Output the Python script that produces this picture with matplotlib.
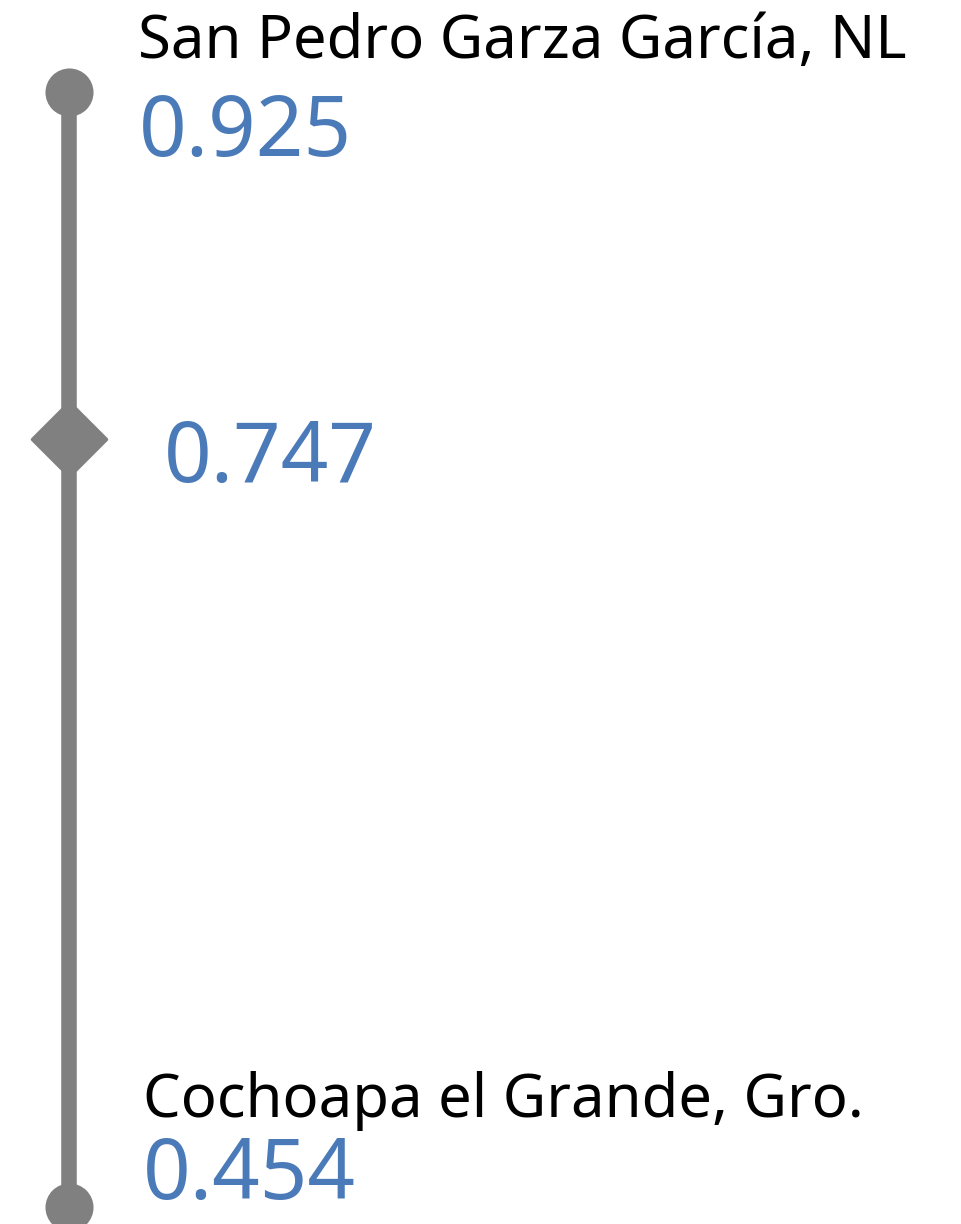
import numpy as np
import matplotlib
matplotlib.use("Agg")
import matplotlib.pyplot as plt
from matplotlib.markers import MarkerStyle

# index values (top = max, bottom = min, diamond = national/state value)
MAX_NAME  = "San Pedro Garza García, NL"
MIN_NAME  = "Cochoapa el Grande, Gro."
MAX_VALUE = 0.925
MIN_VALUE = 0.454
MID_VALUE = 0.747

GRAY = "#808080"
BLUE = "#4a7ab8"
POW  = 0.15

plt.rcParams["font.family"] = ["Noto Sans", "DejaVu Sans"]

fig = plt.figure(figsize=(9.61, 12.24), dpi=100)
ax  = fig.add_axes([0, 0, 1, 1])
ax.set_yscale("function", functions=(lambda v: np.power(np.clip(v, 1e-9, None), POW),
                                     lambda t: np.power(np.clip(t, 1e-9, None), 1 / POW)))

# axis limits so the end markers sit where the reference puts them
t_hi, t_lo = MAX_VALUE ** POW, MIN_VALUE ** POW
span = t_hi - t_lo
ppu  = (1132.3 - 17.3) / span
ax.set_ylim((t_lo - 17.3 / ppu) ** (1 / POW), (t_hi + 91.7 / ppu) ** (1 / POW))
ax.set_xlim(-69, 961 - 69)
ax.axis("off")

ax.plot([0, 0], [MIN_VALUE, MAX_VALUE], color=GRAY, lw=11.2, solid_capstyle="butt", zorder=1)
ax.plot([0, 0], [MIN_VALUE, MAX_VALUE], "o", color=GRAY, ms=34.6, mew=0, zorder=2)
ax.plot([0], [MID_VALUE], linestyle="none", marker=MarkerStyle("D", joinstyle="round"),
        color=GRAY, ms=37.5, mec=GRAY, mew=2.5, zorder=3)

def label(text, y, dx, dy, size, color):
    ax.annotate(text, xy=(0, y), xytext=(dx, dy), textcoords="offset points",
                ha="left", va="baseline", fontsize=size, color=color)

label(MAX_NAME, MAX_VALUE, 50, 24, 43, "black")
label(f"{MAX_VALUE:.3f}", MAX_VALUE, 50, -46.5, 60, BLUE)
label(f"{MID_VALUE:.3f}", MID_VALUE, 68, -31, 60, BLUE)
label(MIN_NAME, MIN_VALUE, 53.5, 64.6, 43, "black")
label(f"{MIN_VALUE:.3f}", MIN_VALUE, 53.5, 5.5, 60, BLUE)

fig.savefig("out.png", dpi=100, facecolor="white")
